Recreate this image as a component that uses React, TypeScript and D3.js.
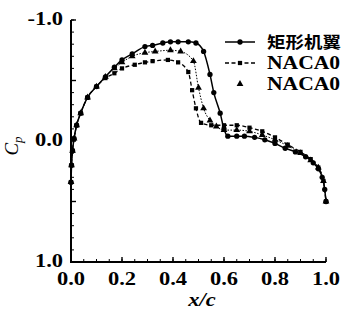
import * as d3 from "d3";

// pressure coefficient along the chord
const xRect = [0, 0.002, 0.006, 0.012, 0.022, 0.038, 0.065, 0.1, 0.135, 0.17, 0.2, 0.24, 0.29, 0.32, 0.36, 0.39, 0.42, 0.46, 0.49, 0.52, 0.545, 0.56, 0.585, 0.6, 0.615, 0.65, 0.68, 0.72, 0.76, 0.8, 0.84, 0.88, 0.92, 0.95, 0.97, 0.985, 0.995, 1.0];
const cpRect = [0.34, 0.2, 0.08, -0.02, -0.13, -0.23, -0.36, -0.45, -0.53, -0.61, -0.67, -0.72, -0.78, -0.79, -0.81, -0.82, -0.82, -0.82, -0.81, -0.74, -0.55, -0.4, -0.23, -0.1, -0.04, -0.04, -0.04, -0.03, -0.01, 0.02, 0.06, 0.09, 0.13, 0.18, 0.23, 0.3, 0.4, 0.5];

const xNacaA = [0, 0.002, 0.006, 0.012, 0.022, 0.038, 0.065, 0.1, 0.135, 0.17, 0.2, 0.25, 0.29, 0.32, 0.38, 0.42, 0.46, 0.475, 0.49, 0.51, 0.55, 0.6, 0.65, 0.7, 0.75, 0.8, 0.85, 0.9, 0.94, 0.97, 0.99, 1.0];
const cpNacaA = [0.34, 0.2, 0.08, -0.02, -0.13, -0.23, -0.36, -0.45, -0.52, -0.56, -0.6, -0.63, -0.65, -0.66, -0.67, -0.65, -0.57, -0.42, -0.27, -0.15, -0.13, -0.13, -0.13, -0.11, -0.08, -0.03, 0.03, 0.09, 0.15, 0.22, 0.33, 0.5];

const xNacaB = [0, 0.002, 0.006, 0.012, 0.022, 0.038, 0.065, 0.1, 0.135, 0.17, 0.2, 0.24, 0.29, 0.33, 0.39, 0.43, 0.48, 0.5, 0.52, 0.545, 0.57, 0.6, 0.65, 0.7, 0.75, 0.8, 0.85, 0.9, 0.94, 0.97, 0.99, 1.0];
const cpNacaB = [0.34, 0.2, 0.08, -0.02, -0.13, -0.23, -0.36, -0.45, -0.53, -0.6, -0.65, -0.7, -0.73, -0.74, -0.75, -0.74, -0.66, -0.44, -0.27, -0.17, -0.12, -0.09, -0.09, -0.08, -0.05, -0.01, 0.04, 0.1, 0.16, 0.22, 0.33, 0.5];

// legend labels as far as the picture shows them
const legendLabels = ["矩形机翼", "NACA0", "NACA0"];
const xTickLabels = ["0.0", "0.2", "0.4", "0.6", "0.8", "1.0"];
const yTickLabels = ["-1.0", "0.0", "1.0"];

const W = 343;
const H = 322;
const serif = "'Liberation Serif', 'Times New Roman', serif";

const x = d3.scaleLinear().domain([0, 1]).range([71, 326]);
const y = d3.scaleLinear().domain([-1, 1]).range([20, 262]);

type Pt = [number, number];
const zip = (xs: number[], ys: number[]): Pt[] => xs.map((v, i) => [v, ys[i]]);

const line = d3
  .line<Pt>()
  .x((d) => x(d[0]))
  .y((d) => y(d[1]))
  .curve(d3.curveMonotoneX);

const circleSym = d3.symbol().type(d3.symbolCircle).size(22);
const squareSym = d3.symbol().type(d3.symbolSquare).size(18);
const triSym = d3.symbol().type(d3.symbolTriangle).size(20);

const series = [
  { pts: zip(xRect, cpRect), dash: undefined, width: 1.5, sym: circleSym() },
  { pts: zip(xNacaA, cpNacaA), dash: "4,2.5", width: 1.3, sym: squareSym() },
  { pts: zip(xNacaB, cpNacaB), dash: "1.5,1.5", width: 1, sym: triSym() },
];

// stretched text, the scan is wider than it is tall
function SText({ tx, ty, anchor = "start", children, size = 18, italic = false, sx = 1.25 }: any) {
  return (
    <g transform={`translate(${tx},${ty}) scale(${sx},1)`}>
      <text
        textAnchor={anchor}
        fontFamily={serif}
        fontWeight="bold"
        fontStyle={italic ? "italic" : "normal"}
        fontSize={size}
      >
        {children}
      </text>
    </g>
  );
}

export default function App() {
  const yMinor = d3.range(-1, 1.001, 0.1);
  const yMajor = [-1, -0.5, 0, 0.5, 1];
  const xMinor = d3.range(0, 1.001, 0.05);
  const xMajor = d3.range(0, 1.001, 0.2);

  return (
    <svg
      width={W}
      height={H}
      style={{ position: "absolute", left: 0, top: 0, background: "#fff" }}
    >
      <rect width={W} height={H} fill="#fff" />

      {/* axes */}
      <path d={`M${x(0)},${y(-1)}V${y(1)}H${x(1)}`} fill="none" stroke="#000" strokeWidth={2} />
      {yMinor.map((v, i) => (
        <line key={"ym" + i} x1={x(0)} x2={x(0) + 3} y1={y(v)} y2={y(v)} stroke="#000" strokeWidth={1} />
      ))}
      {yMajor.map((v, i) => (
        <line key={"yM" + i} x1={x(0)} x2={x(0) + 5} y1={y(v)} y2={y(v)} stroke="#000" strokeWidth={1.4} />
      ))}
      {xMinor.map((v, i) => (
        <line key={"xm" + i} x1={x(v)} x2={x(v)} y1={y(1)} y2={y(1) - 3} stroke="#000" strokeWidth={1} />
      ))}
      {xMajor.map((v, i) => (
        <line key={"xM" + i} x1={x(v)} x2={x(v)} y1={y(1)} y2={y(1) - 5} stroke="#000" strokeWidth={1.4} />
      ))}

      {xTickLabels.map((t, i) => (
        <SText key={"xl" + i} tx={x(+t)} ty={285} anchor="middle">
          {t}
        </SText>
      ))}
      {yTickLabels.map((t, i) => (
        <SText key={"yl" + i} tx={63} ty={y(+t) + 5} anchor="end">
          {t}
        </SText>
      ))}

      <SText tx={202} ty={306} anchor="middle" italic>
        x/c
      </SText>
      <g transform="translate(18,146) rotate(-90)">
        <text textAnchor="middle" fontFamily={serif} fontStyle="italic" fontSize={19}>
          C<tspan fontSize={13} dy={4}>p</tspan>
        </text>
      </g>

      {/* curves */}
      {series.map((s, i) => (
        <g key={"s" + i}>
          <path
            d={line(s.pts) ?? ""}
            fill="none"
            stroke="#000"
            strokeWidth={s.width}
            strokeDasharray={s.dash}
          />
          {s.pts.map((p, j) => (
            <path key={j} d={s.sym ?? ""} transform={`translate(${x(p[0])},${y(p[1])})`} fill="#000" />
          ))}
        </g>
      ))}

      {/* legend */}
      {series.map((s, i) => {
        const ly = 42 + i * 21;
        return (
          <g key={"lg" + i}>
            {i < 2 && (
              <line
                x1={225}
                x2={255}
                y1={ly}
                y2={ly}
                stroke="#000"
                strokeWidth={s.width}
                strokeDasharray={s.dash}
              />
            )}
            <path d={s.sym ?? ""} transform={`translate(240,${ly})`} fill="#000" />
            {i === 0 ? (
              <g transform={`translate(267,${ly + 6}) scale(1.12,1)`}>
                <text fontFamily="'Noto Sans CJK SC', sans-serif" fontWeight="bold" fontSize={16.5}>
                  {legendLabels[i]}
                </text>
              </g>
            ) : (
              <SText tx={267} ty={ly + 6} sx={1.2}>
                {legendLabels[i]}
              </SText>
            )}
          </g>
        );
      })}
    </svg>
  );
}
